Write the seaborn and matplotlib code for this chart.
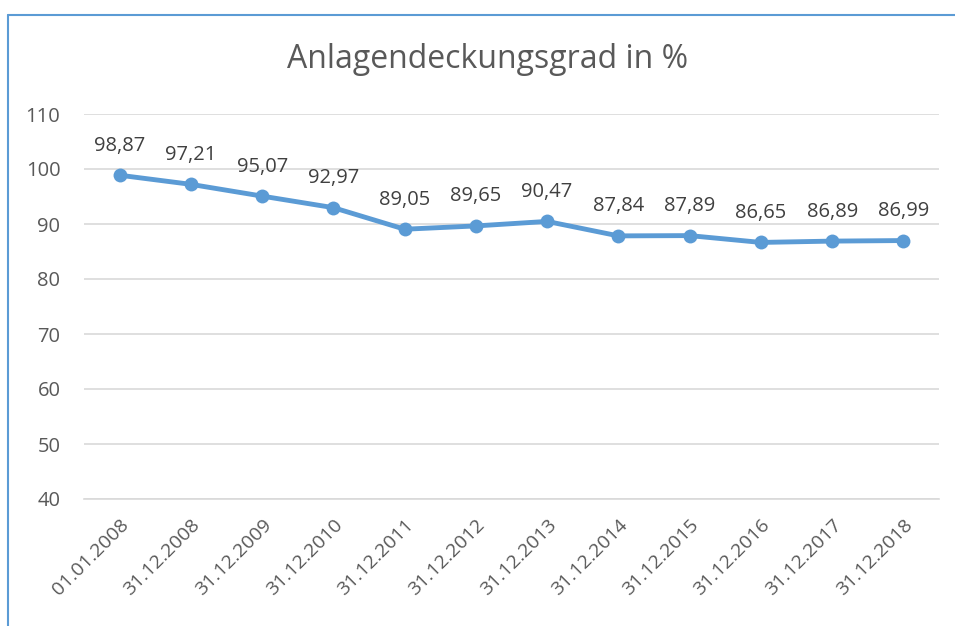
import numpy as np
import pandas as pd
import seaborn as sns
import matplotlib.pyplot as plt
from matplotlib.lines import Line2D

dates = ["01.01.2008", "31.12.2008", "31.12.2009", "31.12.2010", "31.12.2011",
         "31.12.2012", "31.12.2013", "31.12.2014", "31.12.2015", "31.12.2016",
         "31.12.2017", "31.12.2018"]
values = [98.87, 97.21, 95.07, 92.97, 89.05, 89.65, 90.47, 87.84, 87.89,
          86.65, 86.89, 86.99]
y_ticks = [40, 50, 60, 70, 80, 90, 100, 110]

sns.set_theme(style="white")
plt.rcParams['font.family'] = ['Open Sans', 'DejaVu Sans']

df = pd.DataFrame({"pos": np.arange(len(dates)), "value": values})
blue = "#5B9BD5"
text_col = "#595959"
grid_col = "#D9D9D9"

fig = plt.figure(figsize=(9.55, 6.26), dpi=100)
ax = fig.add_axes([84 / 955, 1 - 499 / 626, 855 / 955, 385 / 626])

sns.lineplot(data=df, x="pos", y="value", ax=ax, color=blue, linewidth=3.5,
             marker="o", markersize=10, markeredgewidth=0)

for x, v in zip(df["pos"], df["value"]):
    ax.annotate(f"{v:.2f}".replace(".", ","), (x, v), xytext=(0, 14),
                textcoords="offset points", ha="center", va="bottom",
                fontsize=14.5, color="#404040")

ax.set_xlim(-0.5, len(dates) - 0.5)
ax.set_ylim(40, 110)
ax.set_yticks(y_ticks)
ax.set_yticklabels([str(t) for t in y_ticks], fontsize=14.5, color=text_col)
ax.yaxis.grid(True, color=grid_col, linewidth=1.2)
ax.tick_params(axis="y", length=0, pad=17)

# category boundary ticks
ax.set_xticks(np.arange(-0.5, len(dates), 1.0))
ax.set_xticklabels([])
ax.tick_params(axis="x", which="major", length=6, color=grid_col, width=1.2,
               direction="out")
ax.set_xticks(np.arange(len(dates)), minor=True)
ax.set_xticklabels(dates, minor=True, rotation=45, ha="right",
                   rotation_mode="anchor", fontsize=14, color=text_col)
ax.tick_params(axis="x", which="minor", length=0, pad=12)

for s in ["top", "right", "left"]:
    ax.spines[s].set_visible(False)
ax.spines["bottom"].set_color(grid_col)
ax.spines["bottom"].set_linewidth(1.2)
ax.set_xlabel("")
ax.set_ylabel("")

fig.text(488 / 955, 1 - 60 / 626, "Anlagendeckungsgrad in %", ha="center",
         va="center", fontsize=23, color=text_col)

# chart frame (partly cut off at right/bottom)
fig.add_artist(Line2D([8 / 955, 8 / 955], [0, 1 - 15 / 626], color=blue,
                      linewidth=1.5, transform=fig.transFigure))
fig.add_artist(Line2D([8 / 955, 1], [1 - 15 / 626, 1 - 15 / 626], color=blue,
                      linewidth=1.5, transform=fig.transFigure))

fig.savefig("out.png", dpi=100)
